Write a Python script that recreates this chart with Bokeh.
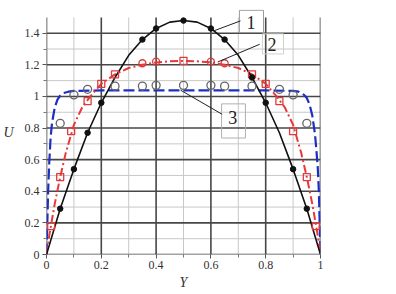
from bokeh.plotting import figure
from bokeh.models import Range1d, FixedTicker, Label
from bokeh.embed import file_html
from bokeh.resources import INLINE

# ---------------- data ----------------
# curve 1 (black, solid) and its points
y1_curve = [0, 0.05, 0.1, 0.15, 0.2, 0.25, 0.3, 0.35, 0.4, 0.45, 0.5,
            0.55, 0.6, 0.65, 0.7, 0.75, 0.8, 0.85, 0.9, 0.95, 1.0]
u1_curve = [0, 0.29, 0.54, 0.77, 0.96, 1.12, 1.26, 1.36, 1.43, 1.47, 1.48,
            1.47, 1.43, 1.36, 1.26, 1.12, 0.96, 0.77, 0.54, 0.29, 0]
y1_pts = [0.05, 0.1, 0.15, 0.2, 0.35, 0.4, 0.5, 0.6, 0.65, 0.75, 0.8, 0.9, 0.95]
u1_pts = [0.29, 0.54, 0.77, 0.96, 1.36, 1.43, 1.48, 1.43, 1.36, 1.12, 0.96, 0.54, 0.29]

# curve 2 (red, dash-dot) and its points
y2_curve = [0, 0.01, 0.02, 0.03, 0.05, 0.07, 0.1, 0.13, 0.16, 0.2, 0.25, 0.3, 0.35, 0.4, 0.45, 0.5,
            0.55, 0.6, 0.65, 0.7, 0.75, 0.8, 0.84, 0.87, 0.9, 0.93, 0.95, 0.97, 0.98, 0.99, 1.0]
u2_curve = [0, 0.12, 0.22, 0.32, 0.49, 0.64, 0.82, 0.93, 1.0, 1.08, 1.14, 1.18, 1.2, 1.215, 1.222, 1.225,
            1.222, 1.215, 1.2, 1.18, 1.14, 1.08, 1.0, 0.93, 0.82, 0.64, 0.49, 0.32, 0.22, 0.12, 0]
y2_sq = [0.017, 0.05, 0.09, 0.15, 0.2, 0.25, 0.5, 0.75, 0.8, 0.85, 0.9, 0.95, 0.983]
u2_sq = [0.18, 0.49, 0.78, 0.97, 1.08, 1.14, 1.225, 1.14, 1.08, 0.97, 0.78, 0.49, 0.18]
y2_circ = [0.35, 0.4, 0.6, 0.65]
u2_circ = [1.21, 1.22, 1.22, 1.21]

# curve 3 (blue, dashed) and its points
y3_curve = [0, 0.003, 0.006, 0.01, 0.015, 0.02, 0.03, 0.04, 0.05, 0.06, 0.08, 0.1, 0.2, 0.3, 0.4, 0.5,
            0.6, 0.7, 0.8, 0.9, 0.92, 0.94, 0.95, 0.96, 0.97, 0.98, 0.985, 0.99, 0.994, 0.997, 1.0]
u3_curve = [0, 0.2, 0.4, 0.58, 0.74, 0.83, 0.93, 0.98, 1.005, 1.02, 1.03, 1.035, 1.038, 1.038, 1.038, 1.038,
            1.038, 1.038, 1.038, 1.035, 1.03, 1.01, 0.99, 0.95, 0.88, 0.76, 0.66, 0.55, 0.4, 0.2, 0]
y3_pts = [0.05, 0.1, 0.15, 0.25, 0.35, 0.4, 0.5, 0.6, 0.65, 0.75, 0.85, 0.9, 0.95]
u3_pts = [0.83, 1.01, 1.045, 1.065, 1.065, 1.07, 1.07, 1.07, 1.065, 1.065, 1.045, 1.01, 0.83]

# axes
x_ticks = [0, 0.2, 0.4, 0.6, 0.8, 1.0]
x_tick_labels = ["0", "0.2", "0.4", "0.6", "0.8", "1"]
x_minor = [0.1, 0.3, 0.5, 0.7, 0.9]
y_ticks = [0, 0.2, 0.4, 0.6, 0.8, 1.0, 1.2, 1.4]
y_tick_labels = ["0", "0.2", "0.4", "0.6", "0.8", "1", "1.2", "1.4"]
y_minor = [0.1, 0.3, 0.5, 0.7, 0.9, 1.1, 1.3]
x_title = "Y"
y_title = "U"
curve_labels = ["1", "2", "3"]

# ---------------- figure ----------------
SERIF = "Liberation Serif"
p = figure(width=396, height=294, output_backend="svg", toolbar_location=None,
           x_range=Range1d(0, 1), y_range=Range1d(0, 1.55),
           min_border_left=46, min_border_right=76, min_border_top=9, min_border_bottom=40)
p.outline_line_color = None
p.xgrid.visible = False
p.ygrid.visible = False

# grid drawn as segments so that it stops at U = 1.5
top = 1.5
p.segment(x0=x_minor, y0=[0] * len(x_minor), x1=x_minor, y1=[top] * len(x_minor),
          line_color="#c8c8c8", line_width=1)
p.segment(x0=[0] * len(y_minor), y0=y_minor, x1=[1] * len(y_minor), y1=y_minor,
          line_color="#c8c8c8", line_width=1)
p.segment(x0=x_ticks, y0=[0] * len(x_ticks), x1=x_ticks, y1=[top] * len(x_ticks),
          line_color="#474747", line_width=1.6)
p.segment(x0=[0] * len(y_ticks), y0=y_ticks, x1=[1] * len(y_ticks), y1=y_ticks,
          line_color="#474747", line_width=1.6)

# axes
for ax, ticks, minor, labels in ((p.xaxis, x_ticks, x_minor, x_tick_labels),
                                 (p.yaxis, y_ticks, y_minor, y_tick_labels)):
    ax.ticker = FixedTicker(ticks=ticks, minor_ticks=minor)
    ax.major_label_overrides = dict(zip(ticks, labels))
    ax.axis_line_color = None
    ax.major_tick_in = 0
    ax.major_tick_out = 4
    ax.minor_tick_in = 0
    ax.minor_tick_out = 3
    ax.major_tick_line_color = "#555555"
    ax.minor_tick_line_color = "#777777"
    ax.major_label_text_font = SERIF
    ax.major_label_text_font_size = "12px"
    ax.major_label_text_color = "#333333"
    ax.major_label_standoff = 3
    ax.axis_label_text_font = SERIF
    ax.axis_label_text_font_style = "italic"
    ax.axis_label_text_font_size = "14px"
    ax.axis_label_text_color = "#333333"
p.xaxis.major_label_standoff = 2
p.yaxis.bounds = (0, 1.5)
p.xaxis.axis_label = x_title
p.xaxis.axis_label_standoff = 3
p.yaxis.axis_label = y_title
p.yaxis.axis_label_standoff = 8
p.yaxis.axis_label_orientation = "horizontal"

# curves
p.line(y3_curve, u3_curve, line_color="#1c2fc4", line_width=2.2, line_dash="11 4")
p.line(y2_curve, u2_curve, line_color="#e8383a", line_width=2, line_dash="8 3 2 3")
p.line(y1_curve, u1_curve, line_color="#111111", line_width=1.6)

# points
p.scatter(y3_pts, u3_pts, marker="circle", size=8, line_color="#666666", line_width=1.3,
          fill_color=None)
p.scatter(y2_sq, u2_sq, marker="square", size=7, line_color="#e03a3a", line_width=1.3,
          fill_color=None)
p.scatter(y2_circ, u2_circ, marker="circle", size=7, line_color="#e03a3a", line_width=1.3,
          fill_color=None)
p.scatter(y1_pts, u1_pts, marker="circle", size=5.5, line_color="#111111", fill_color="#111111")

# annotation boxes, leader lines and labels
box_left = [0.704, 0.788, 0.639]
box_right = [0.792, 0.865, 0.726]
box_top = [1.545, 1.396, 0.953]
box_bottom = [1.404, 1.269, 0.737]
p.quad(left=box_left, right=box_right, top=box_top, bottom=box_bottom,
       fill_color=None, line_color=["#9a9a9a", "#d0d0d0", "#b0b0b0"], line_width=1)
p.segment(x0=[0.708, 0.778, 0.641], y0=[1.478, 1.330, 0.887],
          x1=[0.611, 0.625, 0.489], y1=[1.415, 1.218, 1.040],
          line_color="#222222", line_width=1)
for t, lx, ly in zip(curve_labels, [0.746, 0.823, 0.680], [1.467, 1.329, 0.866]):
    p.add_layout(Label(x=lx, y=ly, text=t, text_font=SERIF, text_font_size="18px",
                       text_color="#222222", text_align="center", text_baseline="middle"))

open("out.html", "w").write(file_html(p, INLINE))
